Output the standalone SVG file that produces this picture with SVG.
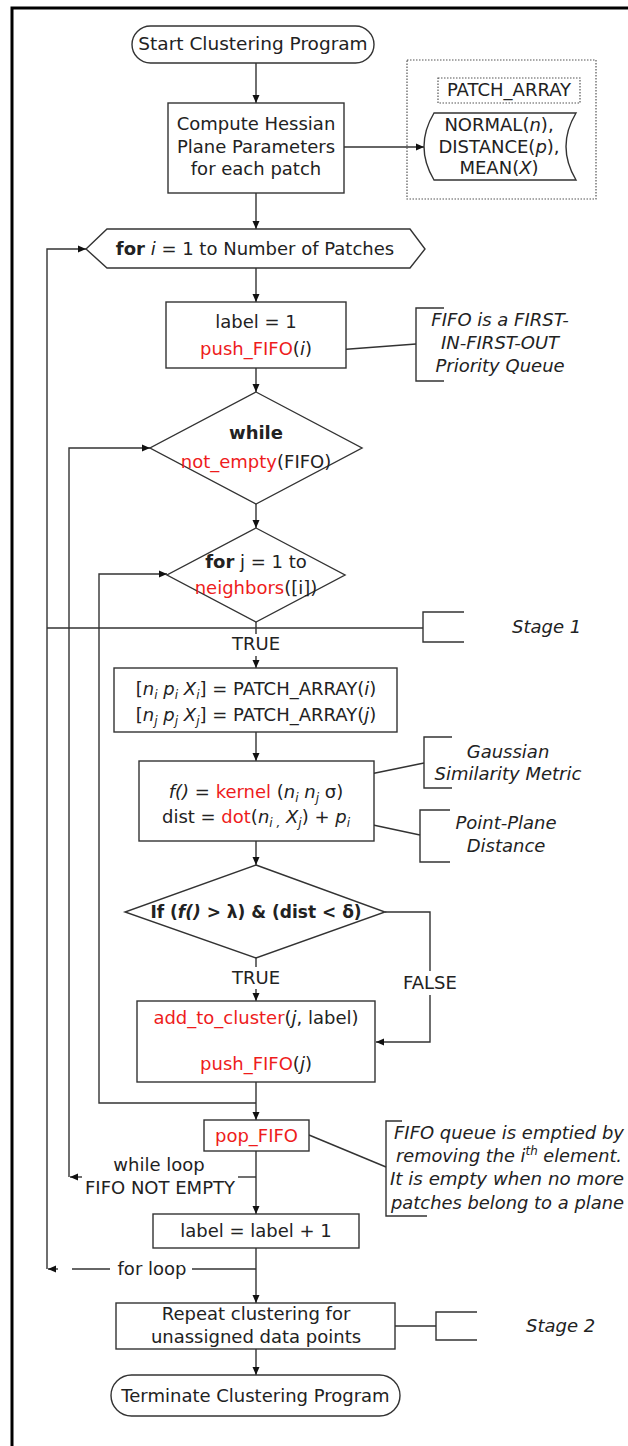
<svg xmlns="http://www.w3.org/2000/svg" width="628" height="1446" viewBox="0 0 628 1446">
<style>
text{font-family:"DejaVu Sans","Liberation Sans",sans-serif;font-size:18px;fill:#222;}
.c{text-anchor:middle}
.it{font-style:italic}
.b{font-weight:bold}
.r{fill:#ee1c1c}
.sh{fill:#fff;stroke:#333;stroke-width:1.4}
.ln{fill:none;stroke:#333;stroke-width:1.4}
.ar{marker-end:url(#ah)}
.dot{fill:none;stroke:#555;stroke-width:1.2;stroke-dasharray:1.5 1.5}
.s{font-size:12px}
</style>
<defs>
<marker id="ah" markerWidth="8" markerHeight="8" refX="8" refY="4" orient="auto" markerUnits="userSpaceOnUse"><path d="M0,0.5 L8,4 L0,7.5z" fill="#111"/></marker>
</defs>
<rect width="628" height="1446" fill="#fff"/>
<path d="M12,1446 V8 H628" fill="none" stroke="#000" stroke-width="3"/>

<g id="connectors">
<path class="ln ar" d="M256,63 V103"/>
<path class="ln ar" d="M344,147 H424"/>
<path class="ln ar" d="M256,193 V229"/>
<path class="ln ar" d="M256,268 V302"/>
<path class="ln ar" d="M256,368 V392"/>
<path class="ln ar" d="M256,504 V528"/>
<path class="ln" d="M256,622 V634"/>
<path class="ln ar" d="M256,656 V668"/>
<path class="ln ar" d="M256,732 V761"/>
<path class="ln ar" d="M256,841 V865"/>
<path class="ln" d="M256,958 V967"/>
<path class="ln ar" d="M256,989 V1001"/>
<path class="ln" d="M385,912 H430 V971"/>
<path class="ln ar" d="M430,995 V1042 H376"/>
<path class="ln ar" d="M256,1082 V1120"/>
<path class="ln ar" d="M256,1103 H99 V574 H167"/>
<path class="ln ar" d="M256,1151 V1214"/>
<path class="ln" d="M256,1177 H238"/>
<path class="ln ar" d="M82,1177 H70"/>
<path class="ln ar" d="M69,1177 V448 H150"/>
<path class="ln ar" d="M256,1248 V1303"/>
<path class="ln" d="M256,1269 H192"/>
<path class="ln" d="M110,1269 H72"/>
<path class="ln ar" d="M58,1269 H48"/>
<path class="ln ar" d="M47,1269 V249 H86"/>
<path class="ln ar" d="M256,1349 V1375"/>
<path class="ln" d="M47,628 H423"/>
<path class="ln" d="M395,1326 H436"/>
<path class="ln" d="M416,344 L310,352"/>
<path class="ln" d="M424,763 L351,778"/>
<path class="ln" d="M420,835 L359,822"/>
<path class="ln" d="M309,1135 L386,1167"/>
</g>

<g id="start">
<rect class="sh" x="132" y="26" width="242" height="37" rx="18.5"/>
<text class="c" x="253" y="50" style="font-size:18.5px">Start Clustering Program</text>
</g>

<g id="compute">
<rect class="sh" x="168" y="103" width="176" height="90"/>
<text class="c" x="256" y="130">Compute Hessian</text>
<text class="c" x="256" y="153">Plane Parameters</text>
<text class="c" x="256" y="175">for each patch</text>
</g>

<g id="patch-array">
<rect class="dot" x="407" y="60" width="189" height="139"/>
<rect class="dot" x="438" y="78" width="142" height="25"/>
<text class="c" x="509" y="96">PATCH_ARRAY</text>
<path class="sh" d="M434,113 H576 Q556,146.5 576,180 H434 Q414,146.5 434,113 Z"/>
<text class="c" x="499" y="131">NORMAL(<tspan class="it">n</tspan>),</text>
<text class="c" x="499" y="153">DISTANCE(<tspan class="it">p</tspan>),</text>
<text class="c" x="499" y="174">MEAN(<tspan class="it">X</tspan>)</text>
</g>

<g id="for-i">
<path class="sh" d="M86,249 L107,229 H410 L425,249 L410,268 H107 Z"/>
<text class="c" x="255" y="255"><tspan class="b">for</tspan> <tspan class="it">i</tspan> = 1 to Number of Patches</text>
</g>

<g id="label-init">
<rect class="sh" x="166" y="302" width="180" height="66"/>
<text class="c" x="256" y="328">label = 1</text>
<text class="c" x="256" y="355"><tspan class="r">push_FIFO</tspan>(<tspan class="it">i</tspan>)</text>
</g>

<g id="note-fifo">
<path class="ln" d="M444,308 H416 V381 H444"/>
<text class="c it" x="500" y="326">FIFO is a FIRST-</text>
<text class="c it" x="500" y="349">IN-FIRST-OUT</text>
<text class="c it" x="500" y="372">Priority Queue</text>
</g>

<g id="while">
<path class="sh" d="M256,392 L362,448 L256,504 L150,448 Z"/>
<text class="c b" x="256" y="439">while</text>
<text class="c" x="256" y="468"><tspan class="r">not_empty</tspan>(FIFO)</text>
</g>

<g id="for-j">
<path class="sh" d="M256,528 L345,575 L256,622 L167,575 Z"/>
<text class="c" x="256" y="568"><tspan class="b">for</tspan> j = 1 to</text>
<text class="c" x="256" y="594"><tspan class="r">neighbors</tspan>([i])</text>
</g>

<g id="stage1">
<path class="ln" d="M464,612 H423 V642 H464"/>
<text class="it" x="512" y="633">Stage 1</text>
</g>

<g id="true1">
<text class="c" x="256" y="650">TRUE</text>
</g>

<g id="patch-read">
<rect class="sh" x="114" y="668" width="283" height="64"/>
<text class="c" x="256" y="695">[<tspan class="it">n</tspan><tspan class="s it" dy="4">i</tspan> <tspan class="it" dy="-4">p</tspan><tspan class="s it" dy="4">i</tspan> <tspan class="it" dy="-4">X</tspan><tspan class="s it" dy="4">i</tspan><tspan dy="-4">] = PATCH_ARRAY(</tspan><tspan class="it">i</tspan>)</text>
<text class="c" x="256" y="721">[<tspan class="it">n</tspan><tspan class="s it" dy="4">j</tspan> <tspan class="it" dy="-4">p</tspan><tspan class="s it" dy="4">j</tspan> <tspan class="it" dy="-4">X</tspan><tspan class="s it" dy="4">j</tspan><tspan dy="-4">] = PATCH_ARRAY(</tspan><tspan class="it">j</tspan>)</text>
</g>

<g id="kernel">
<rect class="sh" x="139" y="761" width="235" height="80"/>
<text class="c" x="256" y="798"><tspan class="it">f()</tspan> = <tspan class="r">kernel</tspan> (<tspan class="it">n</tspan><tspan class="s it" dy="4">i</tspan> <tspan class="it" dy="-4">n</tspan><tspan class="s it" dy="4">j</tspan><tspan dy="-4">  σ)</tspan></text>
<text class="c" x="256" y="823">dist = <tspan class="r">dot</tspan>(<tspan class="it">n</tspan><tspan class="s it" dy="4">i ,</tspan> <tspan class="it" dy="-4">X</tspan><tspan class="s it" dy="4">j</tspan><tspan dy="-4">) + </tspan><tspan class="it">p</tspan><tspan class="s it" dy="4">i</tspan></text>
</g>

<g id="note-gauss">
<path class="ln" d="M452,737 H424 V788 H452"/>
<text class="c it" x="508" y="758">Gaussian</text>
<text class="c it" x="508" y="780">Similarity Metric</text>
</g>

<g id="note-plane">
<path class="ln" d="M450,810 H420 V862 H450"/>
<text class="c it" x="506" y="829">Point-Plane</text>
<text class="c it" x="506" y="852">Distance</text>
</g>

<g id="if">
<path class="sh" d="M256,865 L385,912 L256,958 L125,912 Z"/>
<text class="c b" x="256" y="918" style="font-size:17px">If (<tspan class="it">f()</tspan> &gt;  λ) &amp; (dist &lt;  δ)</text>
</g>

<g id="true2">
<text class="c" x="256" y="984">TRUE</text>
</g>
<g id="false">
<text class="c" x="430" y="989">FALSE</text>
</g>

<g id="add">
<rect class="sh" x="137" y="1001" width="238" height="81"/>
<text class="c" x="256" y="1024"><tspan class="r">add_to_cluster</tspan>(<tspan class="it">j</tspan>, label)</text>
<text class="c" x="256" y="1070"><tspan class="r">push_FIFO</tspan>(<tspan class="it">j</tspan>)</text>
</g>

<g id="pop">
<rect class="sh" x="204" y="1120" width="105" height="31"/>
<text class="c r" x="256.5" y="1142">pop_FIFO</text>
</g>

<g id="note-queue">
<path class="ln" d="M402,1121 H386 V1216 H427"/>
<text class="it" x="394" y="1139" textLength="230" lengthAdjust="spacingAndGlyphs">FIFO queue is emptied by</text>
<text class="it" x="396" y="1162" textLength="226" lengthAdjust="spacingAndGlyphs">removing the i<tspan class="s" dy="-7">th</tspan><tspan dy="7"> element.</tspan></text>
<text class="it" x="390" y="1185" textLength="234" lengthAdjust="spacingAndGlyphs">It is empty when no more</text>
<text class="it" x="391" y="1209" textLength="233" lengthAdjust="spacingAndGlyphs">patches belong to a plane</text>
</g>

<g id="while-loop-label">
<text class="c" x="159" y="1171">while loop</text>
<text class="c" x="160" y="1194">FIFO NOT EMPTY</text>
</g>

<g id="label-inc">
<rect class="sh" x="153" y="1214" width="206" height="34"/>
<text class="c" x="256" y="1237">label = label + 1</text>
</g>

<g id="for-loop-label">
<text class="c" x="152" y="1275">for loop</text>
</g>

<g id="repeat">
<rect class="sh" x="116" y="1303" width="279" height="46"/>
<text class="c" x="256" y="1320">Repeat clustering for</text>
<text class="c" x="256" y="1343">unassigned data points</text>
</g>

<g id="stage2">
<path class="ln" d="M477,1312 H436 V1340 H477"/>
<text class="it" x="526" y="1332">Stage 2</text>
</g>

<g id="terminate">
<rect class="sh" x="111" y="1375" width="289" height="41" rx="20.5"/>
<text class="c" x="255.5" y="1402">Terminate Clustering Program</text>
</g>
</svg>
